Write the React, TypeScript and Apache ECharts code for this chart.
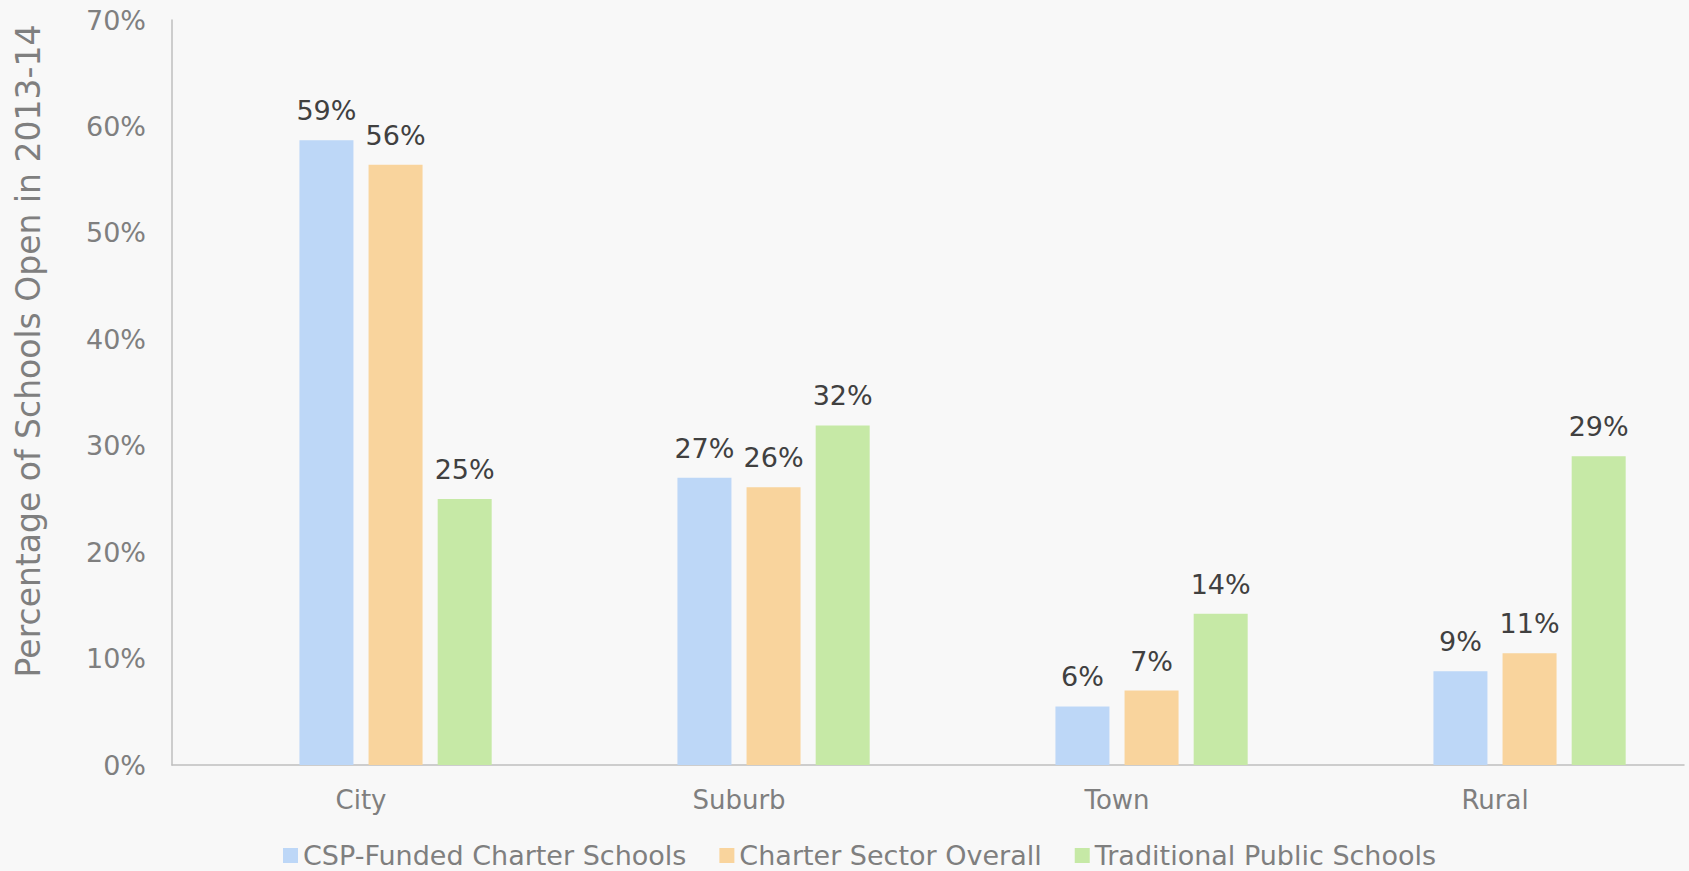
import React, { useEffect, useRef } from "react";
import * as echarts from "echarts";

const categories = ["City", "Suburb", "Town", "Rural"];
const seriesNames = [
  "CSP-Funded Charter Schools",
  "Charter Sector Overall",
  "Traditional Public Schools",
];
const cspFunded = [58.7, 27.0, 5.5, 8.8];
const charterOverall = [56.4, 26.1, 7.0, 10.5];
const traditionalPublic = [25.0, 31.9, 14.2, 29.0];
const colors = ["#BDD7F7", "#F9D49D", "#C6E9A6"];
const yTicks = { min: 0, max: 70, interval: 10 };
const yTitle = "Percentage of Schools Open in 2013-14";

const FONT = "DejaVu Sans";

export default function App() {
  const ref = useRef<HTMLDivElement>(null);
  useEffect(() => {
    if (!ref.current) return;
    const chart = echarts.init(ref.current, undefined, { renderer: "svg" });
    const values = [cspFunded, charterOverall, traditionalPublic];
    const label = {
      show: true,
      position: "top" as const,
      distance: 16,
      color: "#404040",
      fontFamily: FONT,
      fontSize: 27,
      formatter: (p: any) => Math.round(p.value) + "%",
    };
    chart.setOption({
      animation: false,
      backgroundColor: "#f8f8f8",
      textStyle: { fontFamily: FONT },
      grid: { left: 172, right: 5, top: 20, bottom: 106, containLabel: false },
      legend: {
        data: seriesNames,
        left: 283,
        top: 842,
        padding: 0,
        icon: "rect",
        itemWidth: 15,
        itemHeight: 15,
        itemGap: 33,
        textStyle: { color: "#7f7f7f", fontSize: 27, fontFamily: FONT },
      },
      xAxis: {
        type: "category",
        data: categories,
        axisLine: { lineStyle: { color: "#bfbfbf", width: 1.5 } },
        axisTick: { show: false },
        axisLabel: { color: "#7f7f7f", fontSize: 26, fontFamily: FONT, margin: 22 },
      },
      yAxis: {
        type: "value",
        min: yTicks.min,
        max: yTicks.max,
        interval: yTicks.interval,
        axisLine: { show: true, lineStyle: { color: "#bfbfbf", width: 1.5 } },
        axisTick: { show: false },
        splitLine: { show: false },
        axisLabel: {
          color: "#7f7f7f",
          fontSize: 27,
          fontFamily: FONT,
          margin: 26,
          formatter: "{value}%",
        },
      },
      graphic: [
        {
          type: "text",
          x: 28,
          y: 351,
          rotation: Math.PI / 2,
          style: {
            text: yTitle,
            fill: "#7f7f7f",
            fontSize: 33,
            fontFamily: FONT,
            align: "center",
            verticalAlign: "middle",
          },
        },
      ],
      series: [
        {
          name: "",
          type: "bar",
          data: categories.map(() => null),
          barWidth: 54,
          barGap: "28%",
        },
        ...seriesNames.map((name, i) => ({
          name,
          type: "bar",
          data: values[i],
          barWidth: 54,
          barGap: "28%",
          itemStyle: { color: colors[i] },
          label,
        })),
      ],
    });
    return () => chart.dispose();
  }, []);
  return (
    <div
      ref={ref}
      style={{ position: "fixed", left: 0, top: 0, width: 1689, height: 871 }}
    />
  );
}
